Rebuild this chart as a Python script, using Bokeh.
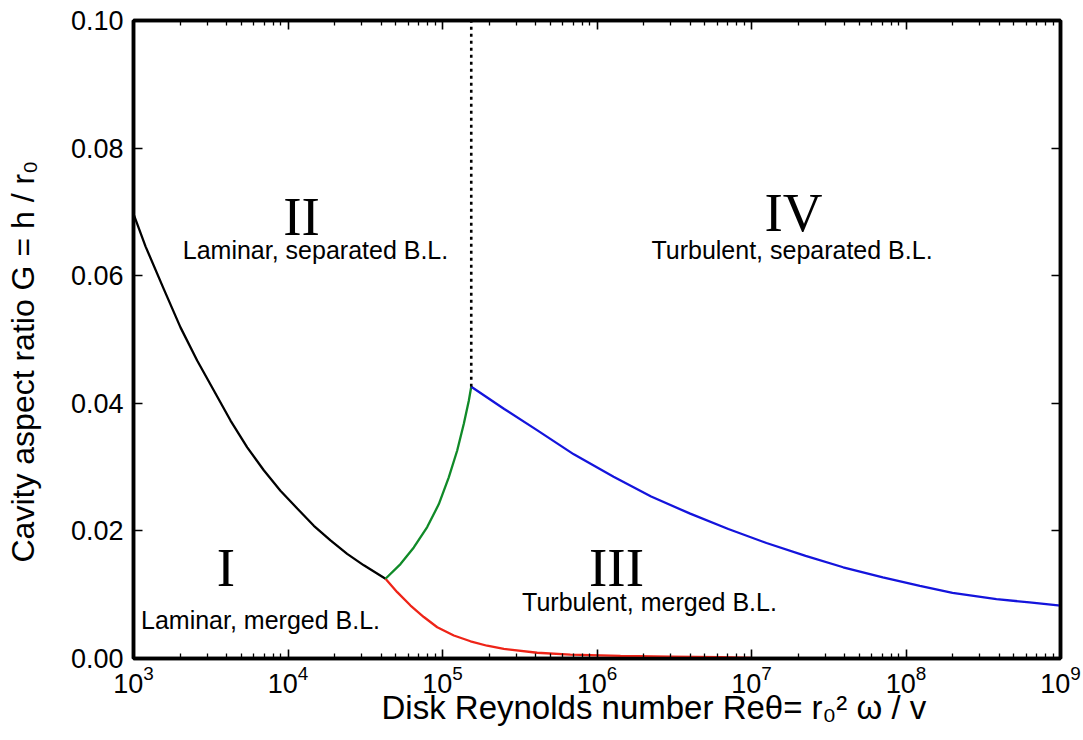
import numpy as np
from bokeh.plotting import figure
from bokeh.models import (LogAxis, LinearAxis, FixedTicker, Label, Range1d,
                          PrintfTickFormatter, Title)
from bokeh.embed import file_html
from bokeh.resources import INLINE

# ---------------- data ----------------
# Regime I / II boundary (black)
black_re = [1000, 1196, 1571, 2014, 2582, 3311, 4246, 5445, 6970, 8933,
            11480, 14700, 18840, 24150, 30970, 42760]
black_g = [0.0697, 0.0646, 0.0579, 0.0519, 0.0467, 0.0420, 0.0373, 0.0331,
           0.0295, 0.0263, 0.0235, 0.0208, 0.0185, 0.0164, 0.0146, 0.0125]

# Regime I / III boundary (red)
red_re = [42760, 50930, 62100, 75700, 92500, 118400, 151800, 194500, 249300,
          410000, 673000, 1.42e6, 2.99e6, 6.3e6, 1.0e7]
red_g = [0.0125, 0.0104, 0.0083, 0.0065, 0.0049, 0.0036, 0.0027, 0.0020,
         0.0015, 0.0009, 0.0006, 0.0004, 0.0003, 0.0002, 0.0001]

# Regime II / III boundary (green)
green_re = [42760, 53460, 65200, 79600, 94700, 109800, 124500, 137400,
            148000, 153500]
green_g = [0.0125, 0.0148, 0.0174, 0.0206, 0.0242, 0.0284, 0.0326, 0.0368,
           0.0404, 0.0426]

# Regime III / IV boundary (blue)
blue_re = [153500, 2.51e5, 4.09e5, 7.08e5, 1.28e6, 2.24e6, 4.01e6, 7.08e6,
           1.25e7, 2.24e7, 3.92e7, 7.08e7, 1.23e8, 2.0e8, 3.85e8, 6.3e8, 1.0e9]
blue_g = [0.0426, 0.0391, 0.0358, 0.0320, 0.0285, 0.0254, 0.0227, 0.0203,
          0.0181, 0.0161, 0.0143, 0.0127, 0.0114, 0.0103, 0.0093, 0.0088, 0.0083]

# Regime II / IV boundary (dotted, vertical)
dot_re = [153500, 153500]
dot_g = [0.0426, 0.10]

x_major = [1e3, 1e4, 1e5, 1e6, 1e7, 1e8, 1e9]
x_minor = [k * 10.0 ** d for d in range(3, 9) for k in range(2, 10)]
y_major = [0.00, 0.02, 0.04, 0.06, 0.08, 0.10]

regions = ["I", "II", "III", "IV"]
region_desc = ["Laminar, merged B.L.", "Laminar, separated B.L.",
               "Turbulent, merged B.L.", "Turbulent, separated B.L."]

x_title = "Disk Reynolds number Re\u03b8= r\u2080\u00b2 \u03c9 / v"
y_title = "Cavity aspect ratio G = h / r\u2080"

# ---------------- figure ----------------
p = figure(frame_width=927, frame_height=638, x_axis_type="log",
           x_range=Range1d(1e3, 1e9), y_range=Range1d(0, 0.10),
           output_backend="svg", toolbar_location=None,
           min_border_left=133, min_border_right=23,
           min_border_top=20, min_border_bottom=82)
p.xgrid.visible = False
p.ygrid.visible = False
p.outline_line_color = "black"
p.outline_line_width = 3.5
p.background_fill_color = "white"
p.border_fill_color = "white"

FONT = "Liberation Sans"

xt = FixedTicker(ticks=x_major, minor_ticks=x_minor)
yt = FixedTicker(ticks=y_major)

def style_x(ax, labels=True):
    ax.ticker = xt
    ax.axis_line_width = 3.5
    ax.axis_line_color = "black"
    ax.major_tick_in = 9
    ax.major_tick_out = 0
    ax.minor_tick_in = 5
    ax.minor_tick_out = 0
    ax.major_tick_line_width = 1.6
    ax.minor_tick_line_width = 1.3
    ax.major_tick_line_color = "black"
    ax.minor_tick_line_color = "black"
    ax.major_label_text_font = FONT
    if labels:
        ax.major_label_text_color = "black"
        ax.major_label_text_font_size = "27px"
        ax.major_label_standoff = 6
    else:
        ax.major_label_text_color = None
        ax.major_label_text_font_size = "8px"
        ax.major_label_standoff = 0

def style_y(ax, labels=True):
    ax.ticker = yt
    ax.formatter = PrintfTickFormatter(format="%.2f")
    ax.axis_line_width = 3.5
    ax.axis_line_color = "black"
    ax.major_tick_in = 9
    ax.major_tick_out = 0
    ax.minor_tick_line_color = None
    ax.major_tick_line_width = 1.6
    ax.major_tick_line_color = "black"
    ax.major_label_text_font = FONT
    if labels:
        ax.major_label_text_color = "black"
        ax.major_label_text_font_size = "27px"
        ax.major_label_standoff = 10
    else:
        ax.major_label_text_color = None
        ax.major_label_text_font_size = "8px"
        ax.major_label_standoff = 0

style_x(p.xaxis[0])
style_y(p.yaxis[0])

top = LogAxis()
style_x(top, labels=False)
p.add_layout(top, "above")
right = LinearAxis()
style_y(right, labels=False)
p.add_layout(right, "right")

# invisible spacer axis: pushes the y-axis title outwards (no text drawn)
spacer = LinearAxis(ticker=FixedTicker(ticks=[0.05]), axis_line_color=None,
                    major_tick_in=0, major_tick_out=27,
                    major_tick_line_color=None, minor_tick_line_color=None,
                    major_label_text_color=None,
                    major_label_text_font_size="1px",
                    major_label_standoff=0)
p.add_layout(spacer, "left")

# ---------------- axis titles ----------------
p.add_layout(Title(text=x_title, align="left", offset=248, standoff=-17,
                   text_font=FONT, text_font_size="33px",
                   text_font_style="normal", text_color="black"), "below")
p.add_layout(Title(text=y_title, align="left", offset=96, standoff=0,
                   text_font=FONT, text_font_size="32px",
                   text_font_style="normal", text_color="black"), "left")

# ---------------- curves ----------------
p.line(black_re, black_g, line_color="black", line_width=2.3)
p.line(red_re, red_g, line_color="#ee2418", line_width=2.3)
p.line(green_re, green_g, line_color="#108a28", line_width=2.3)
p.line(blue_re, blue_g, line_color="#1414dc", line_width=2.3)
p.line(dot_re, dot_g, line_color="black", line_width=2.6, line_dash="3 4")

# ---------------- region annotations ----------------
# helpers translating page pixels of the reference into data coordinates
def fx(px):
    return 10 ** (3 + (px - 133) / 154.5)

def fy(py):
    return (658 - py) / 6380.0

def add_label(px, py, text, size, font=FONT):
    p.add_layout(Label(x=fx(px), y=fy(py), text=text, text_font=font,
                       text_font_size=size, text_color="black",
                       text_align="center", text_baseline="alphabetic"))

SERIF = "Liberation Serif"
add_label(225.5, 567, regions[0], "55px", SERIF)
add_label(301, 216, regions[1], "55px", SERIF)
add_label(616, 567, regions[2], "55px", SERIF)
add_label(793, 212, regions[3], "55px", SERIF)

add_label(260, 619, region_desc[0], "25px")
add_label(315, 249, region_desc[1], "25px")
add_label(649, 601, region_desc[2], "25px")
add_label(791.5, 249, region_desc[3], "25px")

open("out.html", "w").write(file_html(p, INLINE))
